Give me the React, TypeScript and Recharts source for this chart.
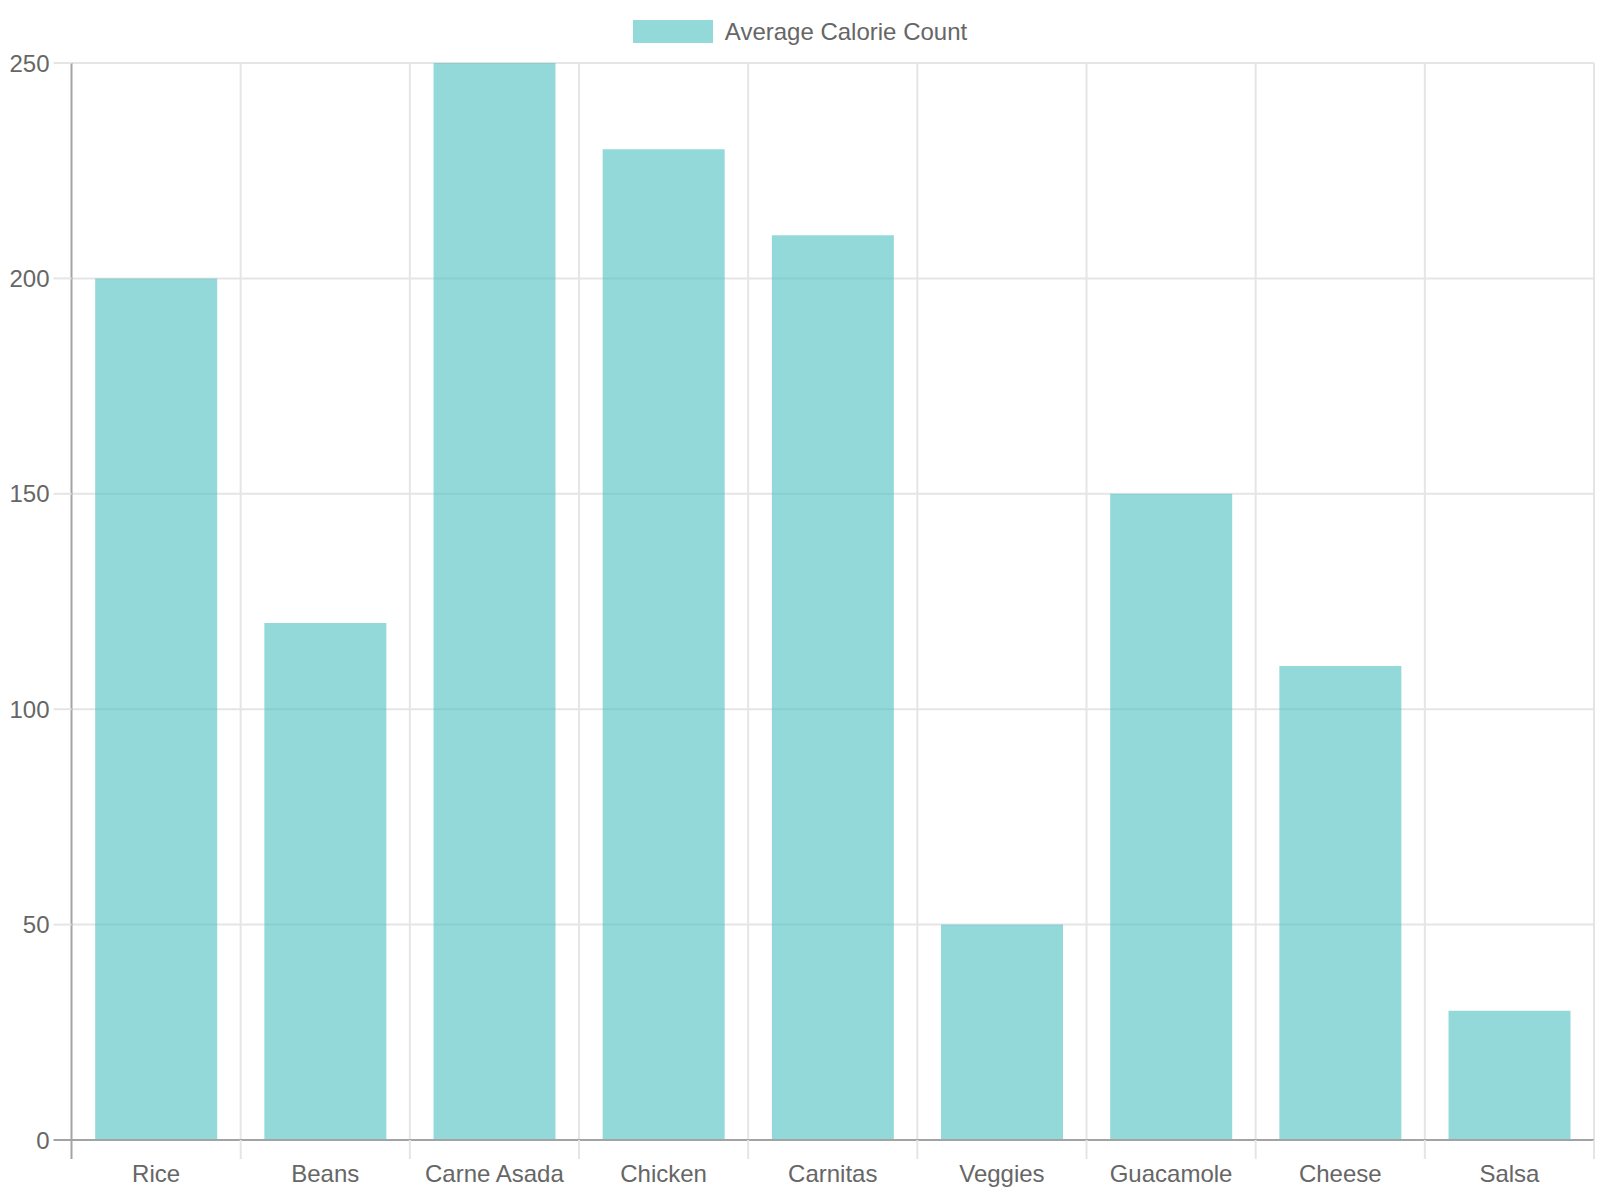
import { BarChart, Bar, XAxis, YAxis, CartesianGrid, Legend } from 'recharts';

const items = ['Rice', 'Beans', 'Carne Asada', 'Chicken', 'Carnitas', 'Veggies', 'Guacamole', 'Cheese', 'Salsa'];
const calories = [200, 120, 250, 230, 210, 50, 150, 110, 30];
const yTicks = [0, 50, 100, 150, 200, 250];
const seriesName = 'Average Calorie Count';

const data = items.map((item, i) => ({ item, calories: calories[i] }));

const W = 1600;
const H = 1200;
const LEFT = 71.5;
const RIGHT = 6;
const BAND = (W - LEFT - RIGHT) / items.length;

const barColor = 'rgba(75, 192, 192, 0.6)';
const gridColor = '#e5e5e5';
const axisColor = '#a3a3a3';
const textColor = '#666';
const font = '"Liberation Sans", Arial, sans-serif';

function XTick(props: any) {
  const { x, y, payload, index } = props;
  const left = x - BAND / 2;
  const right = x + BAND / 2;
  return (
    <g>
      <line x1={left} x2={left} y1={y - 24} y2={y - 5} stroke={index === 0 ? axisColor : gridColor} strokeWidth={2} />
      {index === items.length - 1 && (
        <line x1={right} x2={right} y1={y - 24} y2={y - 5} stroke={gridColor} strokeWidth={2} />
      )}
      <text x={x} y={y + 1} dy="0.71em" textAnchor="middle" fill={textColor} fontSize={24} fontFamily={font}>
        {payload.value}
      </text>
    </g>
  );
}

function YTick(props: any) {
  const { x, y, payload } = props;
  return (
    <g>
      <line x1={x + 4} x2={x + 22} y1={y} y2={y} stroke={payload.value === 0 ? axisColor : gridColor} strokeWidth={2} />
      <text x={x} y={y} dy="0.355em" textAnchor="end" fill={textColor} fontSize={24} fontFamily={font}>
        {payload.value}
      </text>
    </g>
  );
}

function LegendContent() {
  return (
    <div
      style={{
        height: 55,
        boxSizing: 'border-box',
        paddingTop: 12,
        display: 'flex',
        justifyContent: 'center',
      }}
    >
      <div style={{ display: 'flex', alignItems: 'center', height: 23 }}>
        <div style={{ width: 80, height: 23, background: barColor, marginRight: 12 }} />
        <span style={{ fontFamily: font, fontSize: 24, color: textColor, lineHeight: '23px' }}>{seriesName}</span>
      </div>
    </div>
  );
}

export default function App() {
  return (
    <div style={{ position: 'absolute', left: 0, top: 0, width: W, height: H, background: '#fff' }}>
      <BarChart
        width={W}
        height={H}
        data={data}
        margin={{ top: 8, right: RIGHT, left: 0, bottom: 0 }}
        barCategoryGap="14%"
      >
        <CartesianGrid
          stroke={gridColor}
          strokeWidth={2}
          verticalCoordinatesGenerator={({ offset }: any) =>
            items.map((_, i) => offset.left + ((i + 1) * offset.width) / items.length)
          }
        />
        <XAxis
          dataKey="item"
          height={60}
          interval={0}
          tickSize={18}
          tickMargin={6}
          tickLine={false}
          axisLine={{ stroke: axisColor, strokeWidth: 2 }}
          tick={<XTick />}
        />
        <YAxis
          width={LEFT}
          domain={[0, 250]}
          ticks={yTicks}
          tickSize={18}
          tickMargin={4}
          tickLine={false}
          axisLine={{ stroke: axisColor, strokeWidth: 2 }}
          tick={<YTick />}
        />
        <Legend verticalAlign="top" wrapperStyle={{ left: 0, width: W }} content={<LegendContent />} />
        <Bar dataKey="calories" name={seriesName} fill={barColor} isAnimationActive={false} />
      </BarChart>
    </div>
  );
}
